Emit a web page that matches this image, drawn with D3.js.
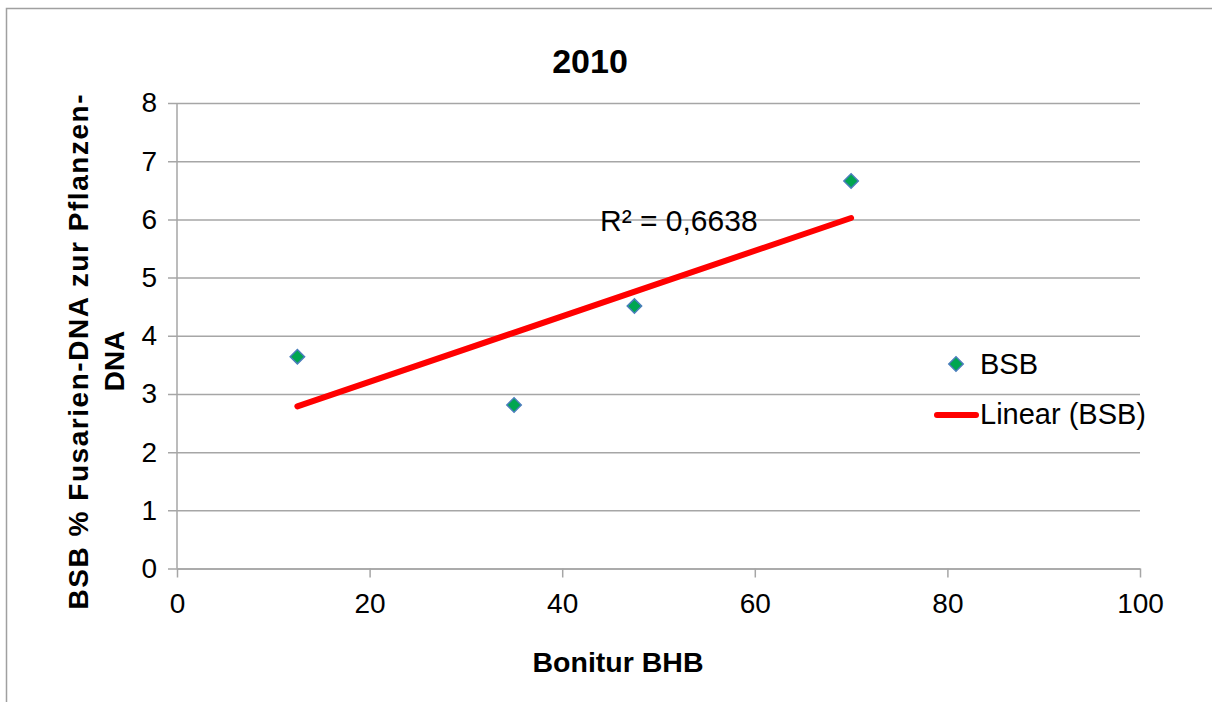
<!DOCTYPE html>
<html>
<head>
<meta charset="utf-8">
<script src="https://cdn.jsdelivr.net/npm/d3@7"></script>
<style>
  body { margin: 0; background: #fff; }
  svg { display: block; font-family: "Liberation Sans", Arial, sans-serif; }
</style>
</head>
<body>
<svg id="chart" width="1212" height="702"></svg>
<script>
// data
var bonitur = [12.5, 35, 47.5, 70];
var bsb = [3.64, 2.81, 4.51, 6.66];
var xTicks = [0, 20, 40, 60, 80, 100];
var yTicks = [0, 1, 2, 3, 4, 5, 6, 7, 8];
var titleText = "2010";
var rSquaredText = "R² = 0,6638";

var svg = d3.select("#chart");
var gridColor = "#a6a6a6";

var x = d3.scaleLinear().domain([0, 100]).range([177, 1140]);
var y = d3.scaleLinear().domain([0, 8]).range([568.5, 103]);

// outer chart border (runs off the right / bottom of the picture)
svg.append("rect")
  .attr("x", 6.5).attr("y", 8.5)
  .attr("width", 1400).attr("height", 800)
  .attr("fill", "none")
  .attr("stroke", "#a0a0a0")
  .attr("stroke-width", 1.5);

// horizontal grid + y ticks
svg.append("g")
  .attr("transform", "translate(" + x(0) + ",0)")
  .call(d3.axisLeft(y).tickValues(yTicks).tickSize(-(x(100) - x(0))).tickPadding(20).tickFormat(d3.format("d")))
  .call(function (g) {
    g.select(".domain").remove();
    g.selectAll(".tick line").attr("stroke", gridColor).attr("stroke-width", 1.5).attr("x1", -9);
    g.selectAll(".tick text").attr("font-size", 28).attr("fill", "#000").attr("font-family", null);
  });

// y axis line
svg.append("line")
  .attr("x1", x(0)).attr("x2", x(0))
  .attr("y1", y(8)).attr("y2", y(0))
  .attr("stroke", gridColor).attr("stroke-width", 1.5);

// x axis
svg.append("g")
  .attr("transform", "translate(0," + y(0) + ")")
  .call(d3.axisBottom(x).tickValues(xTicks).tickSize(9).tickPadding(16).tickSizeOuter(0))
  .call(function (g) {
    g.select(".domain").attr("stroke", gridColor).attr("stroke-width", 1.5);
    g.selectAll(".tick line").attr("stroke", gridColor).attr("stroke-width", 1.5);
    g.selectAll(".tick text").attr("font-size", 28).attr("fill", "#000").attr("font-family", null);
  });

// linear trend line (least squares on the points)
var mx = d3.mean(bonitur), my = d3.mean(bsb);
var sxy = d3.sum(bonitur, function (v, i) { return (v - mx) * (bsb[i] - my); });
var sxx = d3.sum(bonitur, function (v) { return (v - mx) * (v - mx); });
var slope = sxy / sxx;
var intercept = my - slope * mx;
var xExt = d3.extent(bonitur);

svg.append("line")
  .attr("x1", x(xExt[0])).attr("y1", y(intercept + slope * xExt[0]))
  .attr("x2", x(xExt[1])).attr("y2", y(intercept + slope * xExt[1]))
  .attr("stroke", "#ff0000")
  .attr("stroke-width", 6)
  .attr("stroke-linecap", "round");

// points
var diamond = d3.symbol().type(d3.symbolSquare).size(104);
svg.append("g")
  .selectAll("path")
  .data(bonitur)
  .enter()
  .append("path")
  .attr("d", diamond)
  .attr("transform", function (d, i) { return "translate(" + x(d) + "," + y(bsb[i]) + ") rotate(45)"; })
  .attr("fill", "#00a650")
  .attr("stroke", "#4a7ebb")
  .attr("stroke-width", 1.5);

// R² label
svg.append("text")
  .attr("x", 600).attr("y", 231)
  .attr("font-size", 30)
  .text(rSquaredText);

// title
svg.append("text")
  .attr("x", 590).attr("y", 73)
  .attr("text-anchor", "middle")
  .attr("font-size", 34)
  .attr("font-weight", "bold")
  .text(titleText);

// x title
svg.append("text")
  .attr("x", 618).attr("y", 672)
  .attr("text-anchor", "middle")
  .attr("font-size", 28.5)
  .attr("font-weight", "bold")
  .text("Bonitur BHB");

// y title, two lines
var yTitle = svg.append("g").attr("transform", "rotate(-90)");
yTitle.append("text")
  .attr("x", -352).attr("y", 88)
  .attr("text-anchor", "middle")
  .attr("font-size", 28)
  .attr("font-weight", "bold")
  .attr("textLength", 515)
  .attr("lengthAdjust", "spacing")
  .text("BSB % Fusarien-DNA zur Pflanzen-");
yTitle.append("text")
  .attr("x", -361).attr("y", 124)
  .attr("text-anchor", "middle")
  .attr("font-size", 28)
  .attr("font-weight", "bold")
  .text("DNA");

// legend
var legend = svg.append("g");
legend.append("path")
  .attr("d", diamond)
  .attr("transform", "translate(956,364) rotate(45)")
  .attr("fill", "#00a650")
  .attr("stroke", "#4a7ebb")
  .attr("stroke-width", 1.5);
legend.append("text")
  .attr("x", 980).attr("y", 374)
  .attr("font-size", 29)
  .text("BSB");
legend.append("line")
  .attr("x1", 937).attr("x2", 976)
  .attr("y1", 415).attr("y2", 415)
  .attr("stroke", "#ff0000")
  .attr("stroke-width", 6)
  .attr("stroke-linecap", "round");
legend.append("text")
  .attr("x", 980).attr("y", 424)
  .attr("font-size", 29)
  .text("Linear (BSB)");
</script>
</body>
</html>
